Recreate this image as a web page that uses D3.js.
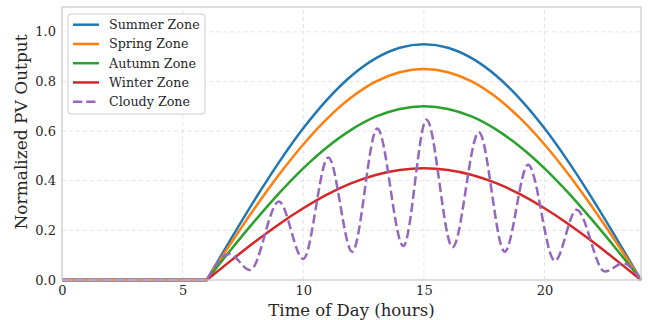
<!DOCTYPE html>
<html>
<head>
<meta charset="utf-8">
<script src="https://cdn.jsdelivr.net/npm/d3@7/dist/d3.min.js"></script>
<style>
  html, body { margin: 0; padding: 0; background: #ffffff; }
  svg { display: block; }
  text { font-family: "DejaVu Serif", serif; fill: #262626; }
</style>
</head>
<body>
<svg id="chart" width="657" height="320"></svg>
<script>
// Hourly normalized PV output for each climate zone (sunrise 6h, sunset 24h)
const hours = [0,1,2,3,4,5,6,7,8,9,10,11,12,13,14,15,16,17,18,19,20,21,22,23,24];
const summer = [0,0,0,0,0,0,0,0.165,0.325,0.475,0.611,0.728,0.823,0.893,0.936,0.95,0.936,0.893,0.823,0.728,0.611,0.475,0.325,0.165,0];
const spring = [0,0,0,0,0,0,0,0.148,0.291,0.425,0.546,0.651,0.736,0.799,0.837,0.85,0.837,0.799,0.736,0.651,0.546,0.425,0.291,0.148,0];
const autumn = [0,0,0,0,0,0,0,0.122,0.239,0.35,0.45,0.536,0.606,0.658,0.689,0.70,0.689,0.658,0.606,0.536,0.45,0.35,0.239,0.122,0];
const winter = [0,0,0,0,0,0,0,0.078,0.154,0.225,0.289,0.345,0.39,0.423,0.443,0.45,0.443,0.423,0.39,0.345,0.289,0.225,0.154,0.078,0];

// Cloudy zone: intermittent output, sampled at its turning points
const cloudyHours = [0,6,6.93,7.8,8.99,10.0,11.04,12.03,13.07,14.15,15.11,16.19,17.28,18.35,19.32,20.43,21.33,22.5,23.26,24];
const cloudy = [0,0,0.105,0.04,0.316,0.085,0.494,0.114,0.61,0.137,0.646,0.132,0.595,0.114,0.464,0.077,0.283,0.034,0.067,0];

const xTicks = [0,5,10,15,20];
const yTicks = [0,0.2,0.4,0.6,0.8,1.0];

const series = [
  { name: "Summer Zone", x: hours, y: summer, color: "#1f77b4", dash: null },
  { name: "Spring Zone", x: hours, y: spring, color: "#ff7f0e", dash: null },
  { name: "Autumn Zone", x: hours, y: autumn, color: "#2ca02c", dash: null },
  { name: "Winter Zone", x: hours, y: winter, color: "#d62728", dash: null },
  { name: "Cloudy Zone", x: cloudyHours, y: cloudy, color: "#9467bd", dash: "9.25,4" }
];

const margin = { left: 62, right: 16, top: 7, bottom: 40 };
const W = 657, H = 320;
const svg = d3.select("#chart");

const x = d3.scaleLinear().domain([0, 24]).range([margin.left, W - margin.right]);
const y = d3.scaleLinear().domain([0, 1.1]).range([H - margin.bottom, margin.top]);

// grid
const grid = svg.append("g");
grid.selectAll("line.gx").data(xTicks).join("line")
  .attr("x1", d => x(d)).attr("x2", d => x(d))
  .attr("y1", y(0)).attr("y2", y(1.1))
  .attr("stroke", "#dddddd").attr("stroke-width", 0.8).attr("stroke-dasharray", "4,3");
grid.selectAll("line.gy").data(yTicks).join("line")
  .attr("x1", x(0)).attr("x2", x(24))
  .attr("y1", d => y(d)).attr("y2", d => y(d))
  .attr("stroke", "#dddddd").attr("stroke-width", 0.8).attr("stroke-dasharray", "4,3");

// lines: flat night segment drawn straight, daylight part smoothed
const lineGroup = svg.append("g");
series.forEach(s => {
  const pts = s.x.map((h, i) => [h, s.y[i]]);
  const night = pts.filter(p => p[0] <= 6);
  const day = pts.filter(p => p[0] >= 6);
  const flat = d3.line().x(p => x(p[0])).y(p => y(p[1]));
  const smooth = d3.line().x(p => x(p[0])).y(p => y(p[1])).curve(d3.curveMonotoneX);
  const d = flat(night) + smooth(day).replace(/^M[^A-Za-z]*/, "L" + x(6) + "," + y(0));
  lineGroup.append("path")
    .attr("d", d)
    .attr("fill", "none")
    .attr("stroke", s.color)
    .attr("stroke-width", 2.5)
    .attr("stroke-linejoin", "round")
    .attr("stroke-dasharray", s.dash);
});

// frame
svg.append("rect")
  .attr("x", x(0)).attr("y", y(1.1))
  .attr("width", x(24) - x(0)).attr("height", y(0) - y(1.1))
  .attr("fill", "none").attr("stroke", "#cccccc").attr("stroke-width", 1.25);

// axes
const xAxis = svg.append("g")
  .attr("transform", `translate(0,${y(0)})`)
  .call(d3.axisBottom(x).tickValues(xTicks).tickSize(0).tickPadding(6).tickFormat(d3.format("d")));
xAxis.select(".domain").remove();
xAxis.selectAll("text").attr("font-size", 13).attr("font-family", "DejaVu Serif").attr("fill", "#262626");

const yAxis = svg.append("g")
  .attr("transform", `translate(${x(0)},0)`)
  .call(d3.axisLeft(y).tickValues(yTicks).tickSize(0).tickPadding(6).tickFormat(d3.format(".1f")));
yAxis.select(".domain").remove();
yAxis.selectAll("text").attr("font-size", 13).attr("font-family", "DejaVu Serif").attr("fill", "#262626");

// axis titles
svg.append("text")
  .attr("x", (x(0) + x(24)) / 2).attr("y", 316)
  .attr("text-anchor", "middle").attr("font-size", 16.5)
  .text("Time of Day (hours)");
svg.append("text")
  .attr("transform", "translate(27,132) rotate(-90)")
  .attr("text-anchor", "middle").attr("font-size", 17)
  .text("Normalized PV Output");

// legend
const lg = svg.append("g").attr("transform", "translate(68,14)");
lg.append("rect")
  .attr("width", 137).attr("height", 100).attr("rx", 3)
  .attr("fill", "#ffffff").attr("fill-opacity", 0.85)
  .attr("stroke", "#cccccc").attr("stroke-width", 1);
series.forEach((s, i) => {
  const cy = 10.7 + i * 19.25;
  lg.append("line")
    .attr("x1", 5).attr("x2", 31).attr("y1", cy).attr("y2", cy)
    .attr("stroke", s.color).attr("stroke-width", 2.5)
    .attr("stroke-dasharray", s.dash);
  lg.append("text")
    .attr("x", 41).attr("y", cy).attr("dy", "0.35em")
    .attr("font-size", 12.7)
    .text(s.name);
});
</script>
</body>
</html>
